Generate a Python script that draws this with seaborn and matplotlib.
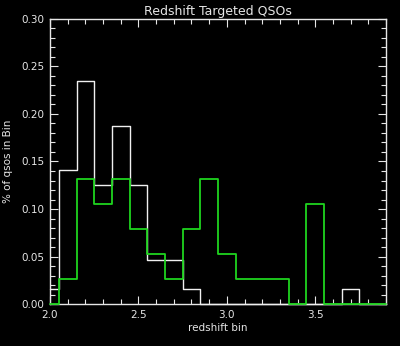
import numpy as np
import pandas as pd
import matplotlib
matplotlib.use("Agg")
import matplotlib.pyplot as plt
import seaborn as sns
from matplotlib.ticker import MultipleLocator

# Bin centres (redshift) and fractions per bin
bin_centers = [2.0, 2.1, 2.2, 2.3, 2.4, 2.5, 2.6, 2.7, 2.8, 2.9,
               3.0, 3.1, 3.2, 3.3, 3.4, 3.5, 3.6, 3.7, 3.8, 3.9]
white_frac = [0.0156, 0.1406, 0.2344, 0.125, 0.1875, 0.125, 0.0469, 0.0469, 0.0156, 0.0,
              0.0, 0.0, 0.0, 0.0, 0.0, 0.0, 0.0, 0.0156, 0.0, 0.0]
green_frac = [0.0, 0.0263, 0.1316, 0.1053, 0.1316, 0.0789, 0.0526, 0.0263, 0.0789, 0.1316,
              0.0526, 0.0263, 0.0263, 0.0263, 0.0, 0.1053, 0.0, 0.0, 0.0, 0.0]
x_ticks = [2.0, 2.5, 3.0, 3.5]
x_tick_labels = ["2.0", "2.5", "3.0", "3.5"]
y_ticks = [0.0, 0.05, 0.10, 0.15, 0.20, 0.25, 0.30]
y_tick_labels = ["0.00", "0.05", "0.10", "0.15", "0.20", "0.25", "0.30"]

df = pd.DataFrame({"z": bin_centers, "white": white_frac, "green": green_frac})

sns.set_style("ticks")
plt.rcParams['font.family'] = ['DejaVu Sans']
fg = '#e6e6e6'

fig = plt.figure(figsize=(4.0, 3.46), dpi=100, facecolor='black')
ax = fig.add_axes([0.125, 0.1205, 0.84, 0.8255])
ax.set_facecolor('black')

sns.lineplot(data=df, x="z", y="white", ax=ax, color='#f0f0f0', linewidth=1.0,
             drawstyle='steps-mid', zorder=3)
sns.lineplot(data=df, x="z", y="green", ax=ax, color='#1ed41e', linewidth=1.3,
             drawstyle='steps-mid', zorder=4)
for l in ax.lines:
    l.set_clip_on(False)

ax.set_xlim(2.0, 3.9)
ax.set_ylim(0.0, 0.30)
ax.set_xticks(x_ticks)
ax.set_xticklabels(x_tick_labels)
ax.set_yticks(y_ticks)
ax.set_yticklabels(y_tick_labels)
ax.xaxis.set_minor_locator(MultipleLocator(0.1))
ax.yaxis.set_minor_locator(MultipleLocator(0.01))

for s in ax.spines.values():
    s.set_visible(True)
    s.set_color(fg)
    s.set_linewidth(1.0)
    s.set_zorder(2)

ax.tick_params(which='both', direction='in', colors=fg, top=True, right=True,
               labelsize=7.5, width=0.8)
ax.tick_params(which='major', length=6, pad=4)
ax.tick_params(which='minor', length=3.5)

ax.set_title("Redshift Targeted QSOs", color=fg, fontsize=9, pad=3)
ax.set_xlabel("redshift bin", color=fg, fontsize=7.5, labelpad=2)
ax.set_ylabel("% of qsos in Bin", color=fg, fontsize=7.5, labelpad=6)

fig.savefig("out.png", dpi=100, facecolor='black')
